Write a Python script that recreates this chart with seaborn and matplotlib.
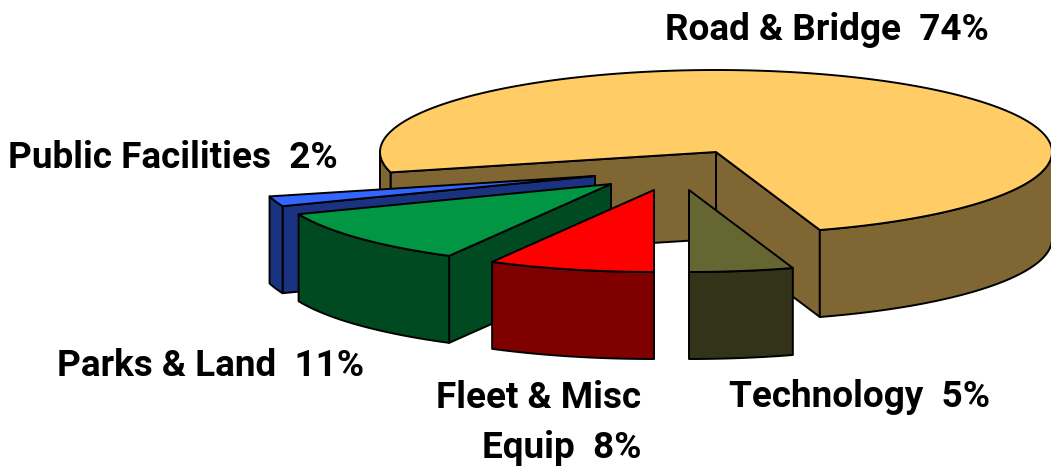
import numpy as np
import matplotlib
matplotlib.use("Agg")
import matplotlib.pyplot as plt
from matplotlib.patches import Polygon
import seaborn as sns

# Data
categories = ["Road & Bridge", "Public Facilities", "Parks & Land", "Fleet & Misc\nEquip", "Technology"]
shares = [74, 2, 11, 8, 5]
top_colors = ["#FFCC66", "#3366FF", "#009644", "#FF0000", "#666633"]
side_colors = ["#806633", "#1A3380", "#004A22", "#800000", "#333319"]
labels = ["Road & Bridge  74%", "Public Facilities  2%", "Parks & Land  11%",
          "Fleet & Misc\nEquip  8%", "Technology  5%"]

# Layout (pixels of the 1051x468 canvas)
apexes = [(716, 152), (595, 176), (611, 184), (654, 190), (689, 190)]
label_pos = [(665, 40, "left"), (8, 168, "left"), (57, 376, "left"), (641, 458, "right"), (729, 407, "left")]
RX, RY, DEPTH = 336, 82, 87
START = -72.0

sns.set_theme(style="white")
plt.rcParams["font.family"] = ["Roboto", "Liberation Sans", "DejaVu Sans"]
fig = plt.figure(figsize=(10.51, 4.68), dpi=100)
ax = fig.add_axes([0, 0, 1, 1])
ax.set_xlim(0, 1051)
ax.set_ylim(468, 0)
ax.axis("off")
LW = 1.4


def rim(apex, t0, t1, n=80):
    t = np.radians(np.linspace(t0, t1, n))
    return np.column_stack([apex[0] + RX * np.cos(t), apex[1] - RY * np.sin(t)])


def poly(pts, color, z):
    ax.add_patch(Polygon(pts, closed=True, facecolor=color, edgecolor="black",
                         linewidth=LW, joinstyle="round", zorder=z))


def arc_wall(apex, a, b, color, z):
    pts = rim(apex, a, b)
    poly(np.vstack([pts, pts[::-1] + [0, DEPTH]]), color, z)


angles = np.cumsum([0] + list(np.array(shares) / sum(shares) * 360.0)) + START
for i, (apex, top, side) in enumerate(zip(apexes, top_colors, side_colors)):
    a, b = angles[i], angles[i + 1]
    z = i * 10
    for ang, vis in ((a, np.cos(np.radians(a)) > 1e-6), (b, np.cos(np.radians(b)) < -1e-6)):
        if vis:
            p = rim(apex, ang, ang, 1)[0]
            poly([apex, p, p + [0, DEPTH], np.array(apex) + [0, DEPTH]], side, z + 1)
    # outer rim: only the part facing the viewer (sin t < 0)
    for lo, hi in ((-180, 0), (180, 360), (540, 720)):
        s, e = max(a, lo), min(b, hi)
        if e > s:
            arc_wall(apex, s, e, side, z + 2)
    poly(np.vstack([[apex], rim(apex, a, b, 160)]), top, z + 3)

for txt, (x, y, ha) in zip(labels, label_pos):
    ax.text(x, y, txt, ha=ha, va="baseline", fontsize=26.6, fontweight="bold", color="black",
            linespacing=1.5, zorder=100)

fig.savefig("out.png", dpi=100, facecolor="white")
